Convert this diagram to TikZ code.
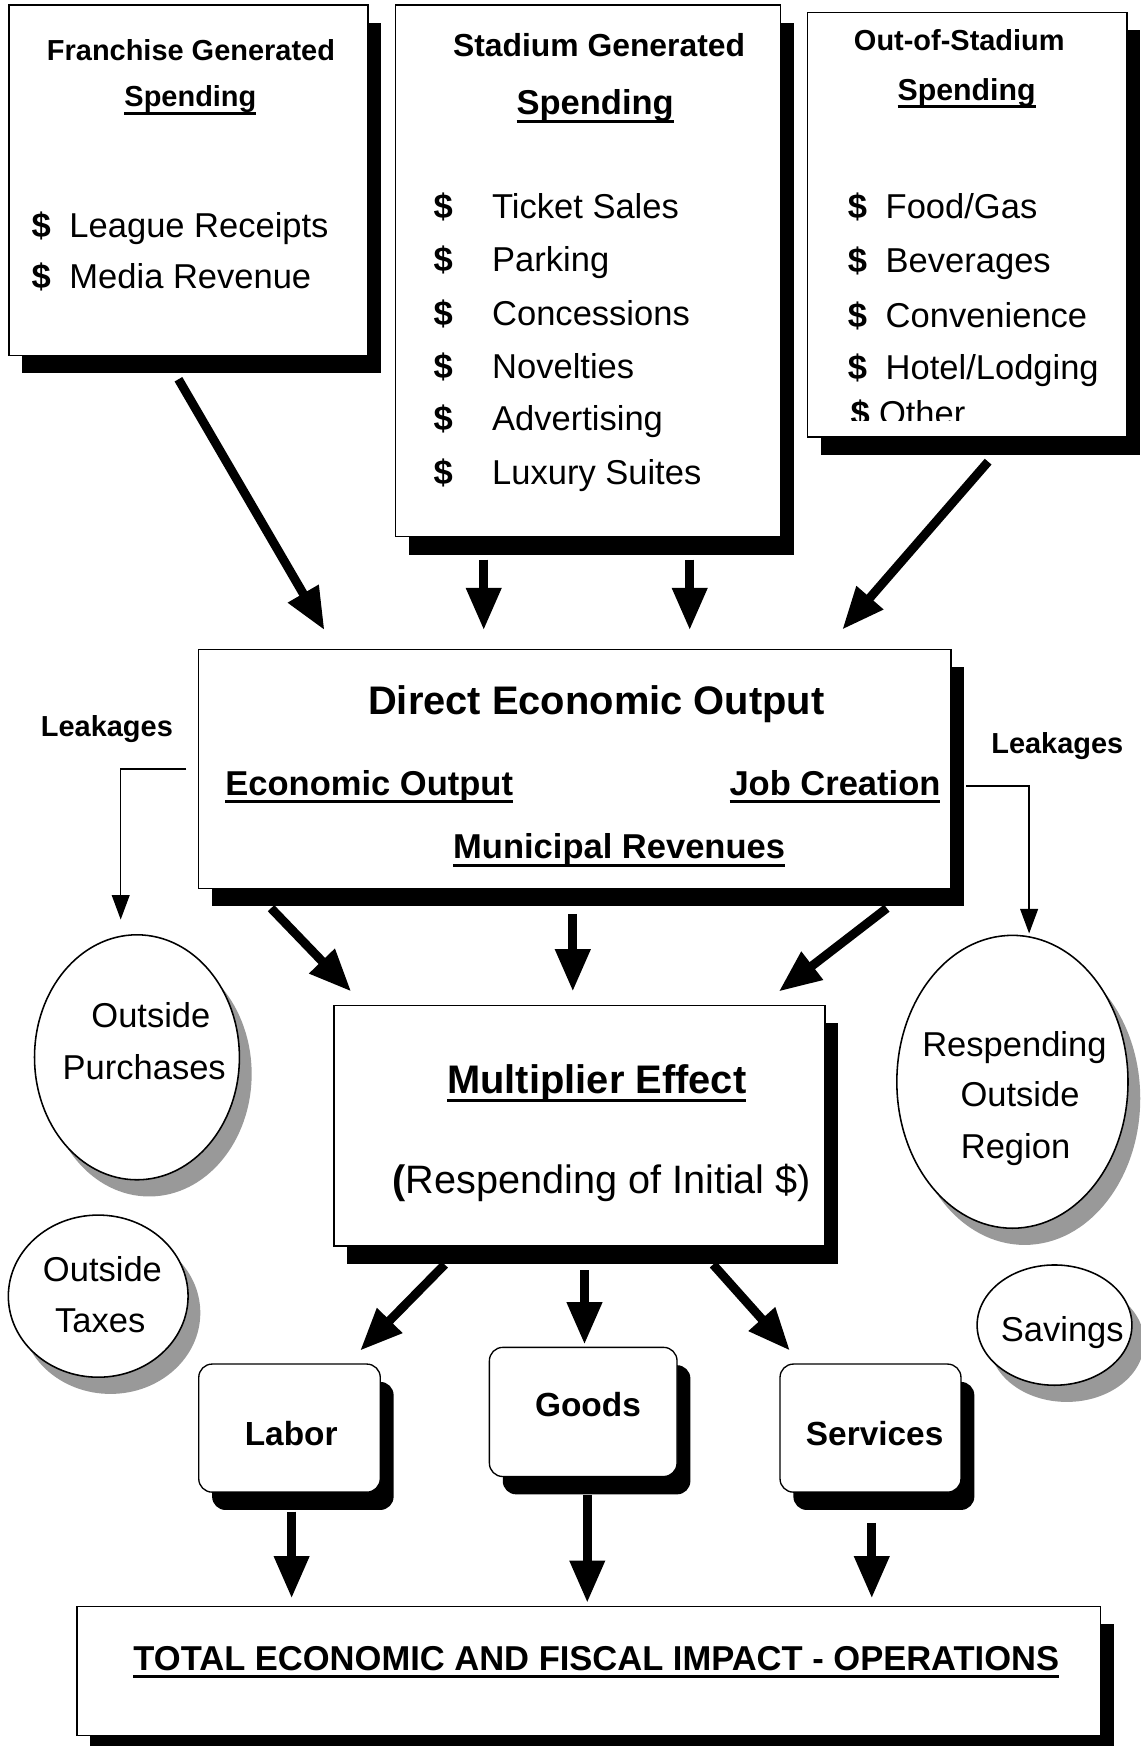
\documentclass[tikz,border=0pt]{standalone}
\usepackage{fontspec}
\setmainfont{Liberation Sans}
\usepackage{tikz}
\usetikzlibrary{positioning,arrows.meta,shapes.geometric,shadows,fit,calc}
\tikzset{>={Triangle[length=19pt,width=15pt]}}
\newsavebox\ulsave
\newcommand{\ulbox}[1]{\sbox\ulsave{#1}\rlap{\rule[-3.6pt]{\wd\ulsave}{1.3pt}}\usebox\ulsave}
\tikzset{
  box/.style={draw, line width=0.6pt, fill=white, inner sep=0pt,
    drop shadow={shadow xshift=6pt, shadow yshift=-8pt, fill=black, opacity=1}},
  rbox/.style={box, rounded corners=6pt},
  oval/.style={ellipse, draw, line width=0.7pt, fill=white, inner sep=0pt,
    drop shadow={shadow xshift=5.5pt, shadow yshift=-7.5pt, fill=black!40, opacity=1}},
  big/.style={line width=4pt, ->},
  leak/.style={line width=0.6pt, -{Triangle[length=11pt,width=8pt]}},
  bf/.style={anchor=base, inner sep=0pt, font=\bfseries\fontsize{#1}{#1}\selectfont},
  rm/.style={anchor=base, inner sep=0pt, font=\fontsize{#1}{#1}\selectfont},
  dollar/.style={bf=15.5, anchor=base west},
  item/.style={rm=15.5, anchor=base west},
}
\begin{document}
\begin{tikzpicture}[x=0.5pt, y=-0.5pt]
\useasboundingbox (0,0) rectangle (1024,1568);

\node[box, fit={(8,4.5) (330.5,319)}] (franchise) {};
\node[bf=13] (fr-title) at (171.5,54) {Franchise Generated};
\node[bf=13] (fr-spend) at (171,96) {\ulbox{Spending}};
\node[dollar] (fr-d1) at (28,213) {\$};
\node[item] (fr-i1) at (62,213) {League Receipts};
\node[dollar] (fr-d2) at (28,259) {\$};
\node[item] (fr-i2) at (62,259) {Media Revenue};

\node[box, fit={(355,4.5) (701,482)}] (stadium) {};
\node[bf=14.3] (st-title) at (538,51) {Stadium Generated};
\node[bf=15.5] (st-spend) at (534.5,103) {\ulbox{Spending}};
\node[dollar] (st-d1) at (389,196) {\$};
\node[item] (st-i1) at (441.6,196) {Ticket Sales};
\node[dollar] (st-d2) at (389,244) {\$};
\node[item] (st-i2) at (441.6,244) {Parking};
\node[dollar] (st-d3) at (389,292) {\$};
\node[item] (st-i3) at (441.6,292) {Concessions};
\node[dollar] (st-d4) at (389,340) {\$};
\node[item] (st-i4) at (441.6,340) {Novelties};
\node[dollar] (st-d5) at (389,387) {\$};
\node[item] (st-i5) at (441.6,387) {Advertising};
\node[dollar] (st-d6) at (389,435) {\$};
\node[item] (st-i6) at (441.6,435) {Luxury Suites};

\node[box, fit={(725,11) (1012,392.5)}] (outstad) {};
\node[bf=13] (os-title) at (861.5,45) {Out-of-Stadium};
\node[bf=13.6] (os-spend) at (868,90) {\ulbox{Spending}};
\node[dollar] (os-d1) at (761,196) {\$};
\node[item] (os-i1) at (795,196) {Food/Gas};
\node[dollar] (os-d2) at (761,245) {\$};
\node[item] (os-i2) at (795,245) {Beverages};
\node[dollar] (os-d3) at (761,294) {\$};
\node[item] (os-i3) at (795,294) {Convenience};
\node[dollar] (os-d4) at (761,341) {\$};
\node[item] (os-i4) at (795,341) {Hotel/Lodging};
\begin{scope}
  \clip (725,11) rectangle (1012,378);
  \node[dollar] (os-d5) at (763.5,382) {\$};
  \node[item] (os-i5) at (789,382) {Other};
\end{scope}

\node[box, fit={(178,583) (854,798)}] (direct) {};
\node[bf=17.9] (di-title) at (535.5,642) {Direct Economic Output};
\node[bf=15.5, anchor=base west] (di-out) at (202,714) {\ulbox{Economic Output}};
\node[bf=15.5, anchor=base east] (di-job) at (845,714) {\ulbox{Job Creation}};
\node[bf=15.5] (di-mun) at (556,771) {\ulbox{Municipal Revenues}};

\node[bf=13] (leak-l) at (96,661) {Leakages};
\node[bf=13] (leak-r) at (949.5,677) {Leakages};

\node[oval, minimum width=92pt, minimum height=110pt] (purch) at (123,949.5) {};
\node[rm=15.5] (pu-1) at (135.5,923) {Outside};
\node[rm=15.5] (pu-2) at (129.5,969) {Purchases};

\node[oval, minimum width=80.7pt, minimum height=72.8pt] (taxes) at (88.2,1164) {};
\node[rm=15.5] (tx-1) at (92,1151) {Outside};
\node[rm=15.5] (tx-2) at (90,1197) {Taxes};

\node[oval, minimum width=103.8pt, minimum height=131.5pt] (respend) at (909.2,971.5) {};
\node[rm=15.5] (rs-1) at (911,949) {Respending};
\node[rm=15.5] (rs-2) at (916,994) {Outside};
\node[rm=15.5] (rs-3) at (912,1040) {Region};

\node[oval, minimum width=69.5pt, minimum height=54pt] (savings) at (947,1190) {};
\node[rm=15.5] (sv-1) at (954,1205) {Savings};

\node[box, fit={(300,903) (741,1119)}] (multi) {};
\node[bf=17.9] (mu-title) at (536,982) {\ulbox{Multiplier Effect}};
\node[rm=17.8, anchor=base west] (mu-sub) at (352,1072) {{\bfseries(}Respending of Initial \$)};

\node[rbox, fit={(178.5,1225) (341.5,1340)}] (labor) {};
\node[bf=15] (la-t) at (261.5,1298) {Labor};
\node[rbox, fit={(439.5,1210) (608,1326)}] (goods) {};
\node[bf=15] (go-t) at (528,1272) {Goods};
\node[rbox, fit={(700.5,1225) (863,1340)}] (services) {};
\node[bf=15] (se-t) at (785.5,1298) {Services};

\node[box, fit={(69,1442.5) (988,1558.5)}] (total) {};
\node[bf=15.5] (to-t) at (535.5,1500) {\ulbox{TOTAL ECONOMIC AND FISCAL IMPACT - OPERATIONS}};

\draw[big] ($(franchise.south)+(-9,21)$) -- ($(direct.north west)+(114,-16.5)$);
\draw[big] ($(stadium.south west)+(80,20)$) -- ($(direct.north west)+(257,-16.5)$);
\draw[big] ($(stadium.south west)+(265,20)$) -- ($(direct.north west)+(442,-16.5)$);
\draw[big] ($(outstad.south west)+(163,21.5)$) -- ($(direct.north west)+(579,-17)$);

\draw[big] ($(direct.south west)+(66,17)$) -- ($(multi.north west)+(16,-12)$);
\draw[big] ($(direct.south west)+(337,22)$) -- ($(multi.north west)+(215,-12)$);
\draw[big] ($(direct.south west)+(619,17)$) -- ($(multi.north west)+(400,-12)$);

\draw[leak] ($(direct.west)+(-10,0)$) -| ($(purch.north)+(-14.6,-13)$);
\draw[leak] ($(direct.east)+(13,15.5)$) -| ($(respend.north)+(15,-1)$);

\draw[big] ($(multi.south west)+(100,16)$) -- ($(labor.north west)+(145.5,-11.5)$);
\draw[big] ($(multi.south west)+(225.5,21)$) -- ($(goods.north west)+(86,-2)$);
\draw[big] ($(multi.south west)+(341,16)$) -- ($(services.north west)+(9.5,-11.5)$);

\draw[big] ($(labor.south west)+(84,17)$) -- ($(total.north west)+(193.5,-6.5)$);
\draw[big] ($(goods.south west)+(88.5,16)$) -- ($(total.north west)+(459,-2.5)$);
\draw[big] ($(services.south west)+(83,27)$) -- ($(total.north west)+(714.5,-6.5)$);
\end{tikzpicture}
\end{document}
